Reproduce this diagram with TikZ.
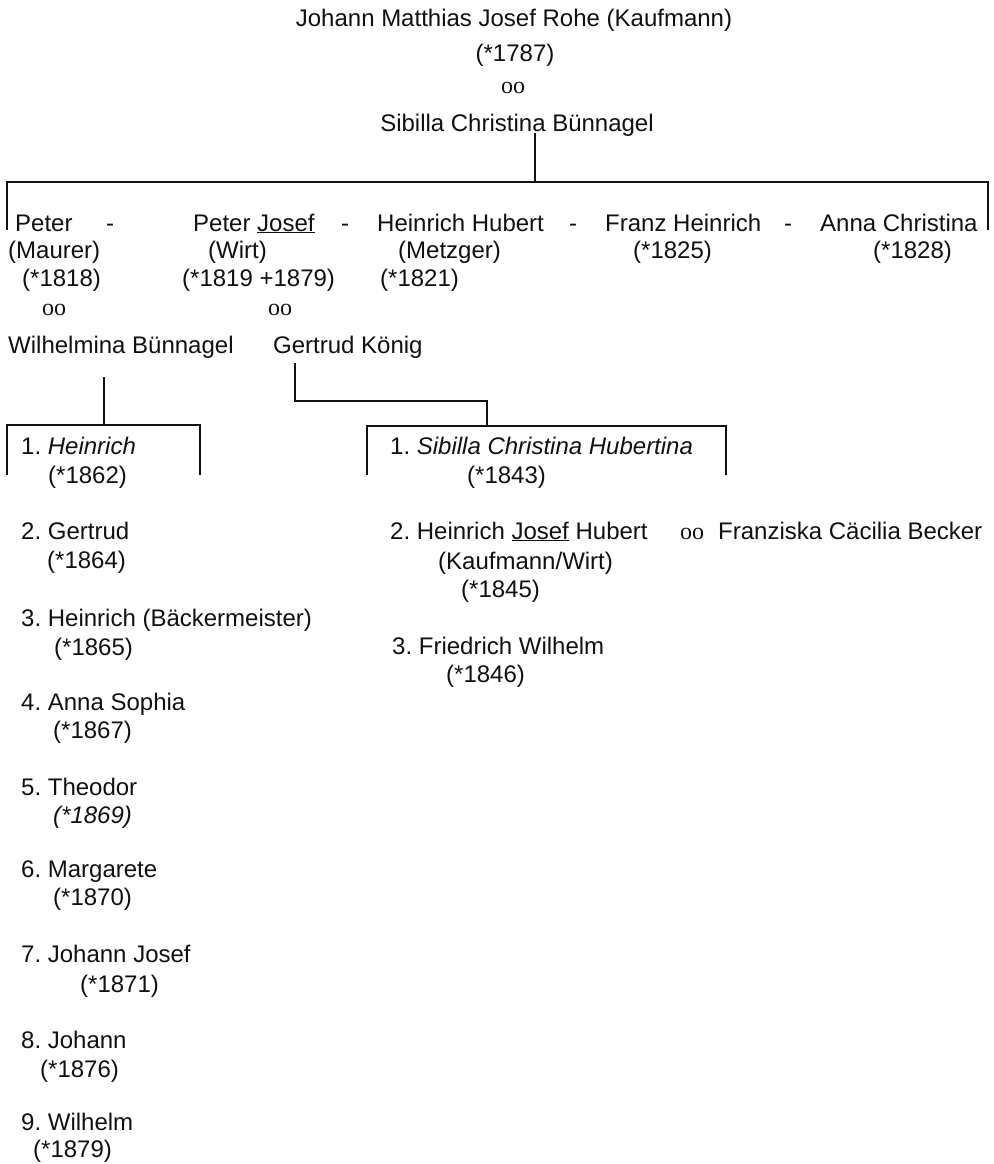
\documentclass[tikz,border=0pt]{standalone}
\usepackage{fontspec}
\setmainfont{Liberation Sans}
\newfontfamily\oofont{Liberation Serif}
\definecolor{ink}{HTML}{111111}
\frenchspacing
\begin{document}
\begin{tikzpicture}[x=1pt,y=-1pt,
  txt/.style={anchor=base west, inner sep=0pt, text=ink, font=\fontsize{24}{28}\selectfont},
  ctxt/.style={anchor=base, inner sep=0pt, text=ink, font=\fontsize{24}{28}\selectfont},
  conn/.style={draw=ink, line width=1.3pt}]
\useasboundingbox[fill=white] (0,0) rectangle (993,1164);
% top couple
\node[ctxt] (t1) at (514,27) {Johann Matthias Josef Rohe (Kaufmann)};
\node[ctxt] (t2) at (515,62) {(*1787)};
\node[ctxt] (t3) at (513,93) {\oofont oo};
\node[ctxt] (t4) at (517,131) {Sibilla Christina Bünnagel};
% bracket 1
\coordinate (m1) at (535,133);
\coordinate (m2) at (535,182);
\coordinate (bl) at (7,230);
\coordinate (blt) at (7,182);
\coordinate (brt) at (988,182);
\coordinate (br) at (988,230);
\draw[conn] (m1) -- (m2);
\draw[conn] (bl) -- (blt) -- (brt) -- (br);
% children row
\node[txt] (c1) at (15,231) {Peter};
\node[txt] (d1) at (106,231) {-};
\node[txt] (c2) at (193,231) {Peter \underline{Josef}};
\node[txt] (d2) at (341,231) {-};
\node[txt] (c3) at (377,231) {Heinrich Hubert};
\node[txt] (d3) at (569,231) {-};
\node[txt] (c4) at (605,231) {Franz Heinrich};
\node[txt] (d4) at (784,231) {-};
\node[txt] (c5) at (820,231) {Anna Christina};
\node[txt] (c1b) at (8,258) {(Maurer)};
\node[txt] (c2b) at (208,258) {(Wirt)};
\node[txt] (c3b) at (398,258) {(Metzger)};
\node[txt] (c4b) at (633,258) {(*1825)};
\node[txt] (c5b) at (873,258) {(*1828)};
\node[txt] (c1c) at (22,286) {(*1818)};
\node[txt] (c2c) at (182,286) {(*1819 +1879)};
\node[txt] (c3c) at (380,286) {(*1821)};
\node[txt] (o1) at (42,315) {\oofont oo};
\node[txt] (o2) at (268,315) {\oofont oo};
\node[txt] (w1) at (8,353) {Wilhelmina Bünnagel};
\node[txt] (w2) at (273,353) {Gertrud König};
% Wilhelmina bracket
\coordinate (wa) at (104,377);
\coordinate (wb) at (104,425);
\coordinate (wl) at (7,475);
\coordinate (wlt) at (7,425);
\coordinate (wrt) at (200,425);
\coordinate (wr) at (200,475);
\draw[conn] (wa) -- (wb);
\draw[conn] (wl) -- (wlt) -- (wrt) -- (wr);
% Gertrud bracket
\coordinate (ga) at (295,363);
\coordinate (gb) at (295,401);
\coordinate (gc) at (487,401);
\coordinate (gd) at (487,426);
\coordinate (gl) at (367,475);
\coordinate (glt) at (367,426);
\coordinate (grt) at (726,426);
\coordinate (gr) at (726,475);
\draw[conn] (ga) -- (gb) -- (gc) -- (gd);
\draw[conn] (gl) -- (glt) -- (grt) -- (gr);
% left column
\node[txt] (l1) at (21,454) {1. \textit{Heinrich}};
\node[txt] (l1b) at (48,483) {(*1862)};
\node[txt] (l2) at (21,539) {2. Gertrud};
\node[txt] (l2b) at (47,568) {(*1864)};
\node[txt] (l3) at (21,626) {3. Heinrich (Bäckermeister)};
\node[txt] (l3b) at (54,655) {(*1865)};
\node[txt] (l4) at (21,710) {4. Anna Sophia};
\node[txt] (l4b) at (53,738) {(*1867)};
\node[txt] (l5) at (21,795) {5. Theodor};
\node[txt] (l5b) at (53,823) {\textit{(*1869)}};
\node[txt] (l6) at (21,877) {6. Margarete};
\node[txt] (l6b) at (53,905) {(*1870)};
\node[txt] (l7) at (21,962) {7. Johann Josef};
\node[txt] (l7b) at (80,992) {(*1871)};
\node[txt] (l8) at (21,1048) {8. Johann};
\node[txt] (l8b) at (40,1077) {(*1876)};
\node[txt] (l9) at (21,1130) {9. Wilhelm};
\node[txt] (l9b) at (33,1157) {(*1879)};
% right column
\node[txt] (r1) at (390,454) {1. \textit{Sibilla Christina Hubertina}};
\node[txt] (r1b) at (467,483) {(*1843)};
\node[txt] (r2) at (390,539) {2. Heinrich \underline{Josef} Hubert};
\node[txt] (r2o) at (680,539) {\oofont oo};
\node[txt] (r2s) at (718,539) {Franziska Cäcilia Becker};
\node[txt] (r2b) at (438,569) {(Kaufmann/Wirt)};
\node[txt] (r2c) at (461,597) {(*1845)};
\node[txt] (r3) at (392,654) {3. Friedrich Wilhelm};
\node[txt] (r3b) at (446,682) {(*1846)};
\end{tikzpicture}
\end{document}
